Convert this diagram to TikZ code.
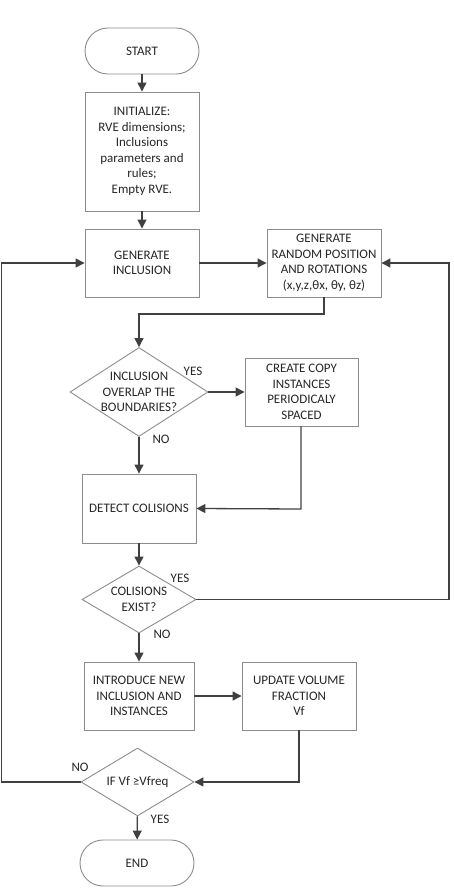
\documentclass[tikz,border=0pt]{standalone}
\usepackage{fontspec}
\setmainfont{Carlito}
\usetikzlibrary{shapes.geometric,arrows.meta}
\definecolor{bordergray}{HTML}{8C8C8C}
\definecolor{arrowgray}{HTML}{404040}
\begin{document}
\begin{tikzpicture}[x=1pt,y=-1pt,
  font=\fontsize{13}{15.5}\selectfont,
  every node/.style={text=black!85},
  procbox/.style={draw=bordergray,line width=0.9pt,align=center,inner sep=0pt,minimum width=114pt},
  termbox/.style={draw=bordergray,line width=0.9pt,rounded corners=23pt,minimum width=114pt,minimum height=46pt,inner sep=0pt},
  decbox/.style={draw=bordergray,line width=0.9pt,diamond,align=center,inner sep=0pt},
  flow/.style={draw=arrowgray,line width=1.3pt,-{Triangle[length=9pt,width=9pt]}},
  lbl/.style={inner sep=0pt}
]
\useasboundingbox (0,0) rectangle (453,896);
\node[termbox] (start) at (142,51) {START};
\node[procbox,minimum height=119pt] (init) at (142,151.5) {INITIALIZE:\\RVE dimensions;\\Inclusions\\parameters and\\rules;\\Empty RVE.};
\node[procbox,minimum height=68pt] (geninc) at (142,263) {GENERATE\\INCLUSION};
\node[procbox,minimum height=68pt] (genrand) at (324,263) {GENERATE\\RANDOM POSITION\\AND ROTATIONS\\(x,y,z,θx, θy, θz)};
\node[decbox,minimum width=138pt,minimum height=89pt,aspect=1.55] (overlap) at (139,392) {INCLUSION\\OVERLAP THE\\BOUNDARIES?};
\node[procbox,minimum width=113pt,minimum height=68pt] (copy) at (301.5,392) {CREATE COPY\\INSTANCES\\PERIODICALY\\SPACED};
\node[procbox,minimum height=69pt] (detect) at (139,508.5) {DETECT COLISIONS};
\node[decbox,minimum width=114pt,minimum height=67pt,aspect=1.7] (exist) at (139,599.5) {COLISIONS\\EXIST?};
\node[procbox,minimum width=110pt,minimum height=68pt] (intro) at (139,696) {INTRODUCE NEW\\INCLUSION AND\\INSTANCES};
\node[procbox,minimum width=114pt,minimum height=68pt] (update) at (299,696) {UPDATE VOLUME\\FRACTION\\Vf};
\node[decbox,minimum width=113pt,minimum height=68pt,aspect=1.66] (ifvf) at (137.5,782) {IF Vf ≥Vfreq};
\node[termbox] (end) at (137,863) {END};
% labels
\node[lbl] (yes1) at (193,371) {YES};
\node[lbl] (no1) at (161,439) {NO};
\node[lbl] (yes2) at (180,578) {YES};
\node[lbl] (no2) at (162,634) {NO};
\node[lbl] (no3) at (80,767) {NO};
\node[lbl] (yes3) at (160,819) {YES};
% connectors
\coordinate (c1) at (324,314);
\coordinate (c2) at (139,314);
\coordinate (c3) at (301,509);
\coordinate (c4) at (449,599.5);
\coordinate (c5) at (449,263);
\coordinate (c6) at (299,782);
\coordinate (c7) at (1.5,782);
\coordinate (c8) at (1.5,263);
\draw[flow] (start) -- (init);
\draw[flow] (init) -- (geninc);
\draw[flow] (geninc) -- (genrand);
\draw[flow] (genrand.south) -- (c1) -- (c2) -- (overlap.north);
\draw[flow] (overlap) -- (copy);
\draw[flow] (overlap) -- (detect);
\draw[flow] (copy.south -| c3) -- (c3) -- (detect.east);
\draw[flow] (detect) -- (exist);
\draw[flow] (exist.east) -- (c4) -- (c5) -- (genrand.east);
\draw[flow] (exist) -- (intro);
\draw[flow] (intro) -- (update);
\draw[flow] (update.south) -- (c6) -- (ifvf.east);
\draw[flow] (ifvf.west) -- (c7) -- (c8) -- (geninc.west);
\draw[flow] (ifvf) -- (end);
\end{tikzpicture}
\end{document}
